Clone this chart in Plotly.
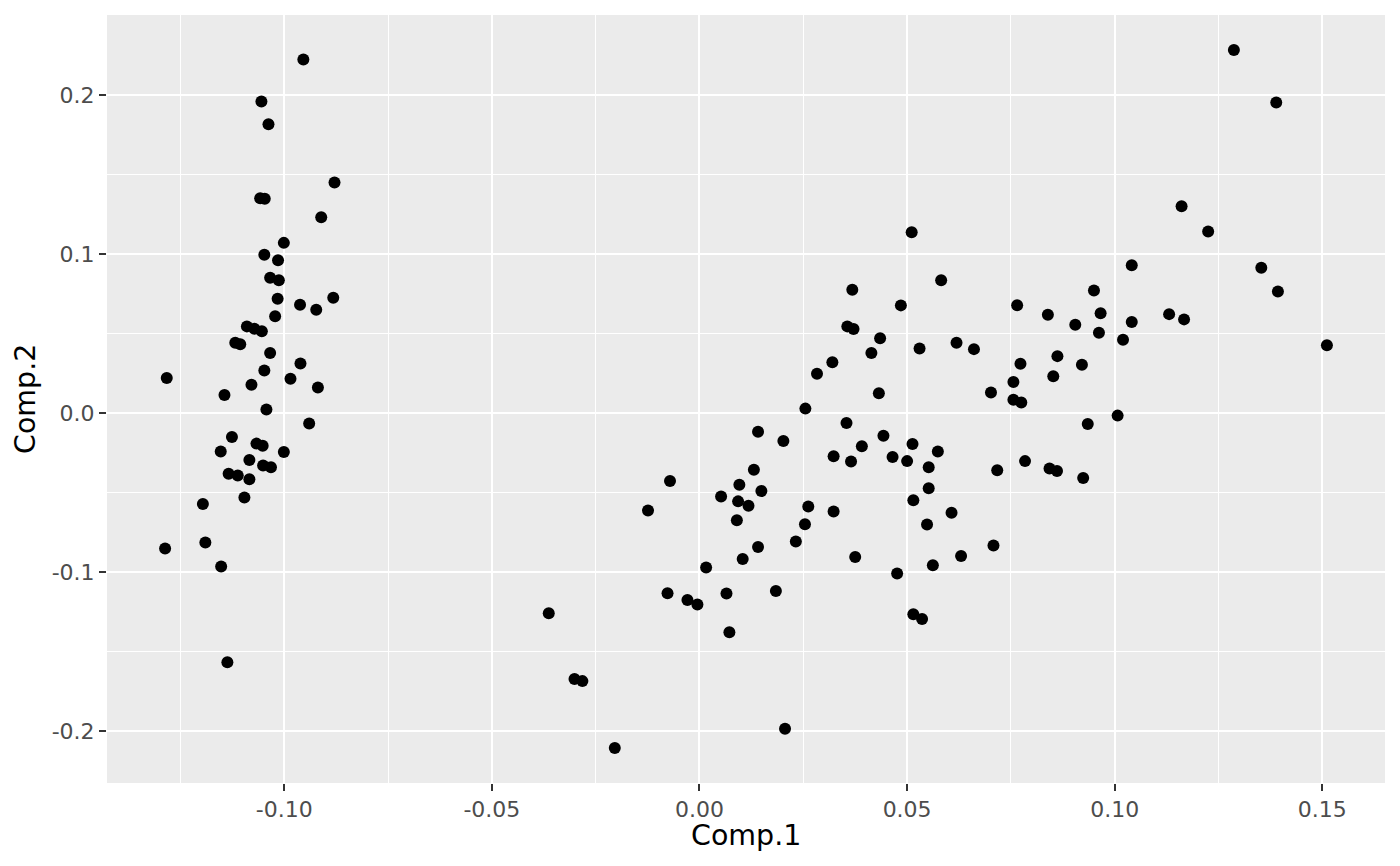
import plotly.graph_objects as go

# scores on the first two principal components
comp1 = [
    # left group
    -0.0954, -0.1055, -0.1038, -0.0879, -0.1058, -0.1047, -0.0911, -0.1001, -0.1048, -0.1015,
    -0.1034, -0.1013, -0.1016, -0.0962, -0.0882, -0.0923, -0.1022, -0.1090, -0.1072, -0.1054,
    -0.1118, -0.1106, -0.1034, -0.0961, -0.1048, -0.1283, -0.0985, -0.0919, -0.1079, -0.1144,
    -0.1043, -0.0940, -0.1126, -0.1067, -0.1052, -0.1153, -0.1001, -0.1084, -0.1051, -0.1032,
    -0.1134, -0.1112, -0.1084, -0.1096, -0.1196, -0.1190, -0.1287, -0.1152, -0.1137,
    # right group
    0.0255, 0.0141, 0.0202, 0.0131, -0.0071, 0.0096, 0.0149, 0.0052, 0.0093, 0.0118,
    -0.0124, 0.0262, 0.0090, 0.0254, 0.0232, 0.0141, 0.0104, 0.0016, -0.0077, -0.0029,
    -0.0005, 0.0065, 0.0184, -0.0363, 0.0072, -0.0301, -0.0282, 0.0206, -0.0204, 0.0323,
    0.0323,
    0.0511, 0.0582, 0.0368, 0.0485, 0.0356, 0.0371, 0.0435, 0.0414, 0.0530, 0.0619,
    0.0661, 0.0320, 0.0283, 0.0432, 0.0702, 0.0354,
    0.0443, 0.0391, 0.0365, 0.0465, 0.0513, 0.0500, 0.0574, 0.0552, 0.0717, 0.0552,
    0.0515, 0.0607, 0.0548, 0.0708, 0.0375, 0.0630, 0.0562, 0.0476, 0.0515, 0.0536,
    0.1287, 0.1389, 0.1161, 0.1225, 0.1041, 0.1353, 0.1393, 0.0950, 0.0765, 0.0839,
    0.0905, 0.0966, 0.0962, 0.1041, 0.1020, 0.1131, 0.1167, 0.1511, 0.0862, 0.0773,
    0.0921, 0.0852, 0.0756, 0.0756, 0.0775, 0.1007, 0.0935, 0.0784, 0.0843, 0.0861,
    0.0924,
]
comp2 = [
    0.2222, 0.1958, 0.1815, 0.1449, 0.1350, 0.1347, 0.1231, 0.1070, 0.0995, 0.0961,
    0.0851, 0.0835, 0.0719, 0.0681, 0.0725, 0.0649, 0.0609, 0.0545, 0.0530, 0.0515,
    0.0442, 0.0432, 0.0377, 0.0312, 0.0268, 0.0220, 0.0216, 0.0161, 0.0178, 0.0113,
    0.0023, -0.0065, -0.0151, -0.0192, -0.0205, -0.0242, -0.0245, -0.0295, -0.0329, -0.0341,
    -0.0381, -0.0393, -0.0416, -0.0530, -0.0572, -0.0814, -0.0852, -0.0965, -0.1566,
    0.0028, -0.0117, -0.0176, -0.0356, -0.0427, -0.0450, -0.0490, -0.0525, -0.0555, -0.0582,
    -0.0613, -0.0588, -0.0674, -0.0699, -0.0808, -0.0842, -0.0917, -0.0971, -0.1133, -0.1175,
    -0.1204, -0.1134, -0.1118, -0.1258, -0.1378, -0.1671, -0.1685, -0.1985, -0.2106, -0.0272,
    -0.0619,
    0.1137, 0.0835, 0.0775, 0.0677, 0.0545, 0.0528, 0.0471, 0.0377, 0.0406, 0.0442,
    0.0402, 0.0320, 0.0247, 0.0124, 0.0130, -0.0063,
    -0.0142, -0.0209, -0.0305, -0.0276, -0.0195, -0.0302, -0.0241, -0.0341, -0.0360, -0.0473,
    -0.0548, -0.0626, -0.0701, -0.0833, -0.0905, -0.0898, -0.0957, -0.1009, -0.1264, -0.1294,
    0.2283, 0.1952, 0.1300, 0.1141, 0.0930, 0.0913, 0.0764, 0.0771, 0.0678, 0.0618,
    0.0555, 0.0628, 0.0505, 0.0572, 0.0461, 0.0622, 0.0589, 0.0427, 0.0358, 0.0310,
    0.0304, 0.0231, 0.0195, 0.0084, 0.0067, -0.0016, -0.0069, -0.0302, -0.0349, -0.0364,
    -0.0408,
]

x_ticks = [-0.10, -0.05, 0.00, 0.05, 0.10, 0.15]
x_labels = ["-0.10", "-0.05", "0.00", "0.05", "0.10", "0.15"]
x_minor = [-0.125, -0.075, -0.025, 0.025, 0.075, 0.125]
y_ticks = [-0.2, -0.1, 0.0, 0.1, 0.2]
y_labels = ["-0.2", "-0.1", "0.0", "0.1", "0.2"]
y_minor = [-0.15, -0.05, 0.05, 0.15]


def _expand(vals, frac=0.05):
    # ggplot-style continuous scale padding
    lo, hi = min(vals), max(vals)
    pad = (hi - lo) * frac
    return [lo - pad, hi + pad]


FONT = "DejaVu Sans"

fig = go.Figure(
    go.Scatter(
        x=comp1,
        y=comp2,
        mode="markers",
        marker=dict(size=12, color="black", line=dict(width=0)),
        hoverinfo="x+y",
    )
)

axis_common = dict(
    showline=False,
    zeroline=False,
    showgrid=True,
    gridcolor="white",
    gridwidth=2,
    ticks="outside",
    ticklen=7,
    tickwidth=2,
    tickcolor="#333333",
    tickfont=dict(family=FONT, size=22, color="#4D4D4D"),
    tickmode="array",
    automargin=False,
)

fig.update_xaxes(
    **axis_common,
    range=_expand(comp1),
    tickvals=x_ticks,
    ticktext=x_labels,
    minor=dict(tickvals=x_minor, showgrid=True, gridcolor="white", gridwidth=1, ticks=""),
)
fig.update_yaxes(
    **axis_common,
    range=_expand(comp2),
    tickvals=y_ticks,
    ticktext=y_labels,
    minor=dict(tickvals=y_minor, showgrid=True, gridcolor="white", gridwidth=1, ticks=""),
)

# axis titles as annotations so they sit where ggplot puts them
title_font = dict(family=FONT, size=28.5, color="black")
fig.add_annotation(
    text="Comp.1", x=0.5, y=0, xref="paper", yref="paper",
    xanchor="center", yanchor="middle", yshift=-52, showarrow=False, font=title_font,
)
fig.add_annotation(
    text="Comp.2", x=0, y=0.5, xref="paper", yref="paper",
    xanchor="center", yanchor="middle", xshift=-82, textangle=-90, showarrow=False, font=title_font,
)

# the page body adds 8px on the top/left, margins account for it
fig.update_layout(
    width=1400,
    height=866,
    margin=dict(l=99, r=23, t=7, b=91),
    plot_bgcolor="#EBEBEB",
    paper_bgcolor="white",
    showlegend=False,
    font=dict(family=FONT),
)

fig.write_html("out.html")
